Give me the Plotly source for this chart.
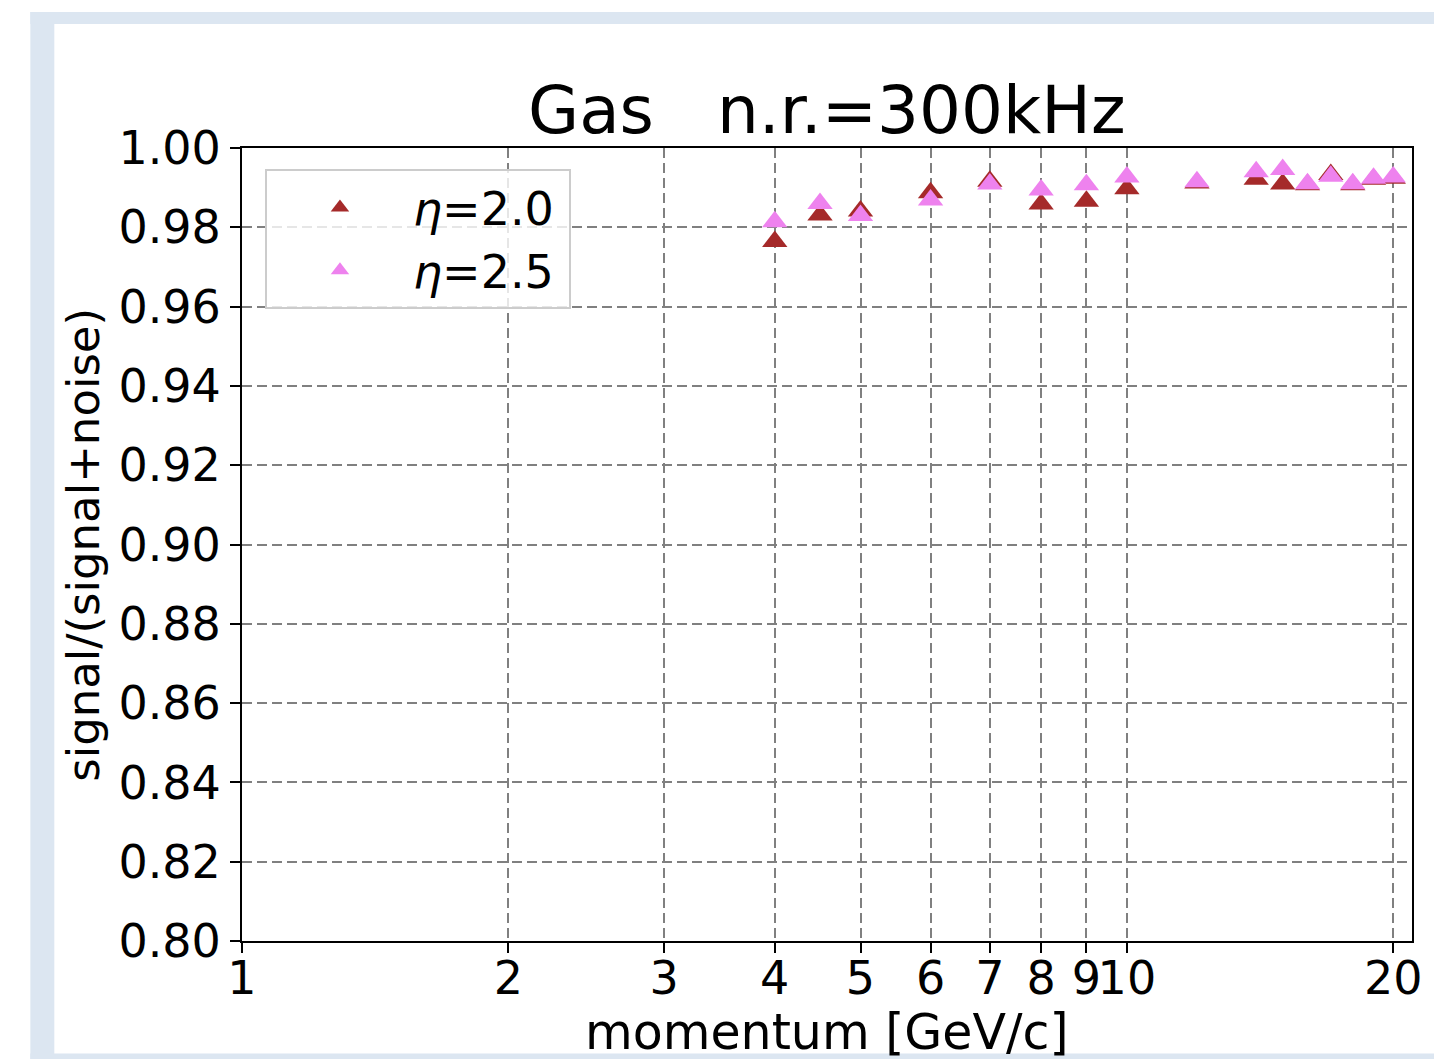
import plotly.graph_objects as go
import math

# ---- data ----
momentum = [4, 4.5, 5, 6, 7, 8, 9, 10, 12, 14, 15, 16, 17, 18, 19, 20]
eta_2_0 = [0.9764, 0.9831, 0.9841, 0.9887, 0.9916, 0.9859, 0.9866, 0.9897,
           0.9912, 0.9921, 0.9909, 0.9907, 0.9933, 0.9907, 0.9921, 0.9924]
eta_2_5 = [0.9814, 0.9860, 0.9830, 0.9869, 0.9909, 0.9894, 0.9907, 0.9927,
           0.9915, 0.9940, 0.9946, 0.9910, 0.9929, 0.9910, 0.9924, 0.9927]
x_tickvals = [1, 2, 3, 4, 5, 6, 7, 8, 9, 10, 20]
x_ticktext = ["1", "2", "3", "4", "5", "6", "7", "8", "9", "10", "20"]
y_tickvals = [0.80, 0.82, 0.84, 0.86, 0.88, 0.90, 0.92, 0.94, 0.96, 0.98, 1.00]
series_names = ["<i>η</i>=2.0\u2009", "<i>η</i>=2.5\u2009"]
title_text = "Gas\u00a0\u00a0\u00a0n.r.=300kHz"
xlabel = "momentum [GeV/c]"
ylabel = "signal/(signal+noise)"

W, H = 1434, 1059
# page-pixel positions of the plot area
L, R, T, B = 242, 1414, 148, 941.5
FONT = "DejaVu Sans"


def px(x):
    return (x - L) / (R - L)


def py(y):
    return (B - y) / (B - T)


fig = go.Figure()
fig.add_trace(go.Scatter(
    x=momentum, y=eta_2_0, mode="markers", name=series_names[0],
    marker=dict(symbol="triangle-up", size=22, color="#a52a2a", line=dict(width=0)),
))
fig.add_trace(go.Scatter(
    x=momentum, y=eta_2_5, mode="markers", name=series_names[1],
    marker=dict(symbol="triangle-up", size=22, color="#ee82ee", line=dict(width=0)),
))

blue = "#dce6f1"
shapes = [
    dict(type="rect", xref="paper", yref="paper", x0=px(30), x1=px(54), y0=py(1070), y1=py(12),
         fillcolor=blue, line=dict(width=0), layer="below"),
    dict(type="rect", xref="paper", yref="paper", x0=px(30), x1=px(1460), y0=py(24), y1=py(12),
         fillcolor=blue, line=dict(width=0), layer="below"),
    dict(type="rect", xref="paper", yref="paper", x0=px(30), x1=px(1460), y0=py(1070), y1=py(1054),
         fillcolor=blue, line=dict(width=0), layer="below"),
]

annotations = [
    dict(text=title_text, x=0.5, y=py(110), xref="paper", yref="paper",
         xanchor="center", yanchor="middle", showarrow=False,
         font=dict(family=FONT, size=66, color="black")),
    dict(text=xlabel, x=0.5, y=py(1033), xref="paper", yref="paper",
         xanchor="center", yanchor="middle", showarrow=False,
         font=dict(family=FONT, size=49, color="black")),
    dict(text=ylabel, x=px(83), y=0.5, xref="paper", yref="paper",
         xanchor="center", yanchor="middle", showarrow=False, textangle=-90,
         font=dict(family=FONT, size=45, color="black")),
]

axis_common = dict(
    showline=True, linecolor="black", linewidth=2, mirror=True,
    ticks="outside", ticklen=10, tickwidth=2, tickcolor="black",
    showgrid=True, gridcolor="#808080", gridwidth=1.8, griddash="10px,5px",
    zeroline=False, tickangle=0,
    tickfont=dict(family=FONT, size=46, color="black"),
)

fig.update_layout(
    width=W, height=H,
    margin=dict(l=L, r=W - R, t=T, b=H - B),
    paper_bgcolor="white", plot_bgcolor="white",
    showlegend=True,
    legend=dict(
        x=px(265), y=py(169), xanchor="left", yanchor="top",
        bgcolor="rgba(255,255,255,0.8)", bordercolor="#cccccc", borderwidth=2,
        font=dict(family=FONT, size=46, color="black"),
        itemwidth=136,
    ),
    xaxis=dict(type="log", range=[0, math.log10(21)], tickvals=x_tickvals,
               ticktext=x_ticktext, ticklabeloverflow="allow",
               ticklabelstandoff=-14, **axis_common),
    yaxis=dict(range=[0.80, 1.00], tickvals=y_tickvals, tickformat=".2f", **axis_common),
    shapes=shapes,
    annotations=annotations,
)

fig.write_html(
    "out.html",
    config={"displayModeBar": False},
    post_script="document.body.style.margin='0';document.body.style.overflow='hidden';",
)
